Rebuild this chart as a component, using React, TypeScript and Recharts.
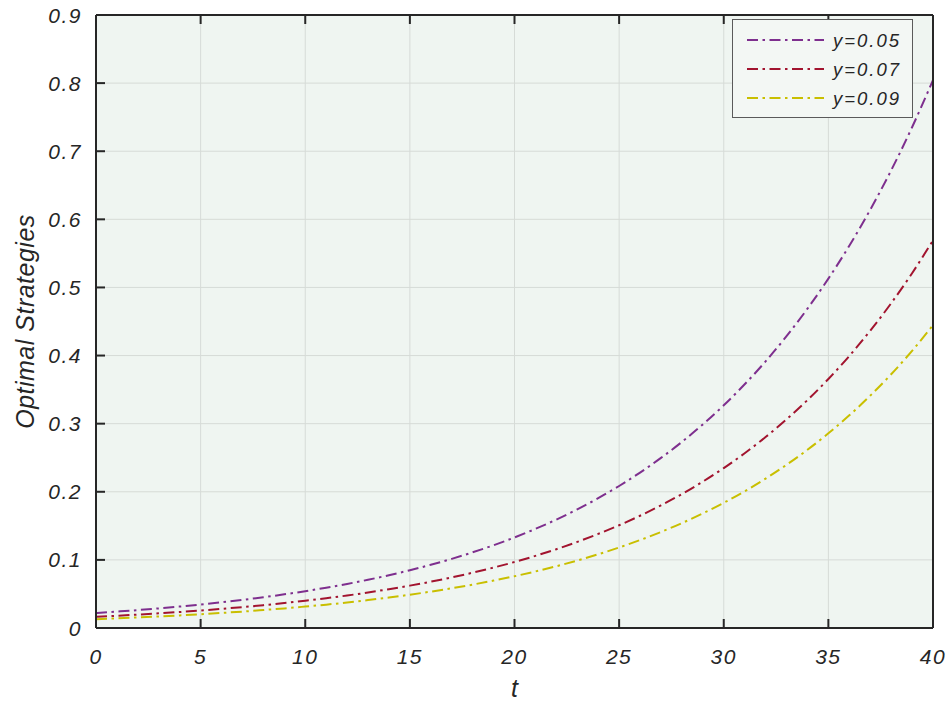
import React from 'react';
import { LineChart, Line, XAxis, YAxis, CartesianGrid, Legend, Label } from 'recharts';

const tValues = [0,1,2,3,4,5,6,7,8,9,10,11,12,13,14,15,16,17,18,19,20,21,22,23,24,25,26,27,28,29,30,31,32,33,34,35,36,37,38,39,40];

const y005 = [0.0220,0.0241,0.0263,0.0288,0.0315,0.0345,0.0377,0.0413,0.0452,0.0494,0.0541,0.0592,0.0647,0.0708,0.0775,0.0848,0.0928,0.1015,0.1111,0.1215,0.1330,0.1455,0.1592,0.1742,0.1906,0.2085,0.2282,0.2497,0.2732,0.2989,0.3270,0.3578,0.3915,0.4284,0.4688,0.5129,0.5612,0.6141,0.6719,0.7352,0.8044];

const y007 = [0.0165,0.0180,0.0197,0.0215,0.0235,0.0257,0.0281,0.0307,0.0335,0.0366,0.0400,0.0437,0.0477,0.0521,0.0570,0.0622,0.0680,0.0743,0.0812,0.0887,0.0969,0.1059,0.1157,0.1264,0.1381,0.1509,0.1648,0.1801,0.1967,0.2149,0.2348,0.2566,0.2803,0.3063,0.3346,0.3656,0.3994,0.4364,0.4768,0.5209,0.5691];

const y009 = [0.0130,0.0142,0.0155,0.0169,0.0185,0.0202,0.0221,0.0241,0.0264,0.0288,0.0315,0.0343,0.0375,0.0410,0.0447,0.0489,0.0534,0.0583,0.0637,0.0696,0.0760,0.0830,0.0907,0.0991,0.1082,0.1182,0.1291,0.1410,0.1540,0.1683,0.1838,0.2008,0.2193,0.2396,0.2617,0.2858,0.3122,0.3411,0.3725,0.4069,0.4445];

const seriesNames = ['y=0.05', 'y=0.07', 'y=0.09'];
const seriesKeys = ['a', 'b', 'c'];
const seriesColors = ['#7E2F8E', '#A2142F', '#C9BF00'];

const xTicks = [0, 5, 10, 15, 20, 25, 30, 35, 40];
const yTicks = [0, 0.1, 0.2, 0.3, 0.4, 0.5, 0.6, 0.7, 0.8, 0.9];

const data = tValues.map((t, i) => ({ t, a: y005[i], b: y007[i], c: y009[i] }));

const FONT = '"Liberation Sans", Arial, sans-serif';
const TXT = '#262626';
const DASH = '11 4.5 2.5 4.5';
const TICK_IN = -9;

const tickText = {
  fontFamily: FONT,
  fontStyle: 'italic',
  fontSize: 21,
  letterSpacing: 1.5,
  fill: TXT,
} as const;

const LeftTick = (props: any) => {
  const { x, y, payload } = props;
  return (
    <text x={x} y={y} textAnchor="end" dominantBaseline="central" {...tickText}>
      {String(payload.value === 0 ? 0 : Number(payload.value).toFixed(1))}
    </text>
  );
};

const BottomTick = (props: any) => {
  const { x, y, payload } = props;
  return (
    <text x={x} y={y} textAnchor="middle" dominantBaseline="central" {...tickText}>
      {String(payload.value)}
    </text>
  );
};

const EmptyTick = () => <g />;

const LegendBox = () => (
  <svg width={181} height={99} style={{ display: 'block' }}>
    <rect x={0.5} y={0.5} width={180} height={98} fill="#F3F7F4" stroke="#5a5a5a" strokeWidth={1} />
    {seriesNames.map((name, i) => (
      <g key={name}>
        <line x1={15} x2={92} y1={21 + i * 29} y2={21 + i * 29} stroke={seriesColors[i]} strokeWidth={2} strokeDasharray={DASH} />
        <text x={101} y={21 + i * 29} dominantBaseline="central" fontFamily={FONT} fontStyle="italic" fontSize={18.5} letterSpacing={2} fill={TXT}>
          {name}
        </text>
      </g>
    ))}
  </svg>
);

const YLabel = (props: any) => {
  const vb = props.viewBox || {};
  const cx = vb.x + 25;
  const cy = vb.y + vb.height / 2;
  return (
    <text x={cx} y={cy} transform={`rotate(-90, ${cx}, ${cy})`} textAnchor="middle" dominantBaseline="central" fontFamily={FONT} fontStyle="italic" fontSize={25} letterSpacing={0.5} fill={TXT}>
      Optimal Strategies
    </text>
  );
};

const XLabel = (props: any) => {
  const vb = props.viewBox || {};
  const cx = vb.x + vb.width / 2;
  const cy = vb.y + 60;
  return (
    <text x={cx} y={cy} textAnchor="middle" dominantBaseline="central" fontFamily={FONT} fontStyle="italic" fontSize={25} fill={TXT}>
      t
    </text>
  );
};

const axisLineStyle = { stroke: TXT, strokeWidth: 2 };
const tickLineStyle = { stroke: TXT, strokeWidth: 2 };

export default function App() {
  return (
    <div style={{ position: 'absolute', left: 0, top: 0, width: 949, height: 702, background: '#ffffff' }}>
      <div style={{ position: 'absolute', left: 96, top: 15, width: 837, height: 613, background: '#EFF5F1' }} />
      <LineChart width={949} height={702} data={data} margin={{ top: 0, right: 0, bottom: 0, left: 0 }}>
        <CartesianGrid stroke="#D6DBD7" strokeWidth={1} />
        <XAxis
          dataKey="t"
          type="number"
          domain={[0, 40]}
          ticks={xTicks}
          height={74}
          tickSize={TICK_IN}
          tickMargin={37}
          tick={<BottomTick />}
          axisLine={axisLineStyle}
          tickLine={tickLineStyle}
          interval={0}
        >
          <Label content={<XLabel />} />
        </XAxis>
        <XAxis
          xAxisId="top"
          orientation="top"
          dataKey="t"
          type="number"
          domain={[0, 40]}
          ticks={xTicks}
          height={15}
          tickSize={TICK_IN}
          tickMargin={0}
          tick={<EmptyTick />}
          axisLine={axisLineStyle}
          tickLine={tickLineStyle}
          interval={0}
        />
        <YAxis
          type="number"
          domain={[0, 0.9]}
          ticks={yTicks}
          width={96}
          tickSize={TICK_IN}
          tickMargin={23}
          tick={<LeftTick />}
          axisLine={axisLineStyle}
          tickLine={tickLineStyle}
          interval={0}
        >
          <Label content={<YLabel />} />
        </YAxis>
        <YAxis
          yAxisId="right"
          orientation="right"
          type="number"
          domain={[0, 0.9]}
          ticks={yTicks}
          width={16}
          tickSize={TICK_IN}
          tickMargin={0}
          tick={<EmptyTick />}
          axisLine={axisLineStyle}
          tickLine={tickLineStyle}
          interval={0}
        />
        {seriesKeys.map((k, i) => (
          <Line
            key={k}
            type="monotone"
            dataKey={k}
            name={seriesNames[i]}
            stroke={seriesColors[i]}
            strokeWidth={2}
            strokeDasharray={DASH}
            dot={false}
            activeDot={false}
            isAnimationActive={false}
          />
        ))}
        <Legend
          layout="vertical"
          align="center"
          verticalAlign="middle"
          wrapperStyle={{ position: 'absolute', left: 732, top: 19, width: 181, height: 99 }}
          content={<LegendBox />}
        />
      </LineChart>
    </div>
  );
}
